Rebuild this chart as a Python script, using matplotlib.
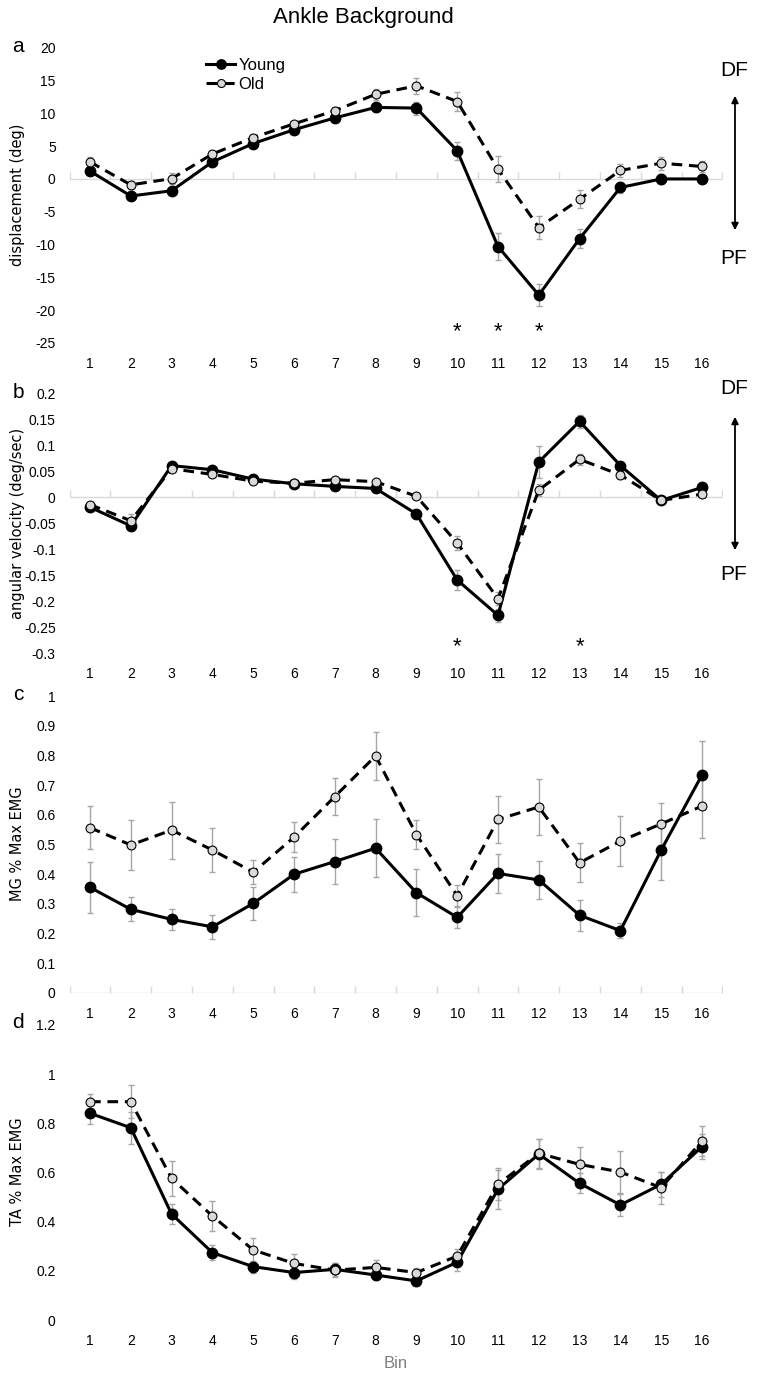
import matplotlib
matplotlib.use("Agg")
import matplotlib.pyplot as plt
from matplotlib.markers import TICKUP
from matplotlib.ticker import FuncFormatter

plt.rcParams['font.family'] = ['Liberation Sans', 'DejaVu Sans']

bins = list(range(1, 17))

# panel a - displacement (deg)
disp_young = [1.2, -2.6, -1.8, 2.6, 5.4, 7.5, 9.3, 10.9, 10.8, 4.3, -10.3, -17.7, -9.1, -1.3, 0.0, 0.0]
disp_young_err = [0.6, 0.6, 0.6, 0.6, 0.5, 0.5, 0.5, 0.7, 1.0, 1.4, 2.0, 1.7, 1.4, 0.8, 0.7, 0.6]
disp_old = [2.6, -0.9, 0.05, 3.8, 6.3, 8.4, 10.4, 12.9, 14.2, 11.8, 1.5, -7.4, -3.1, 1.3, 2.4, 1.9]
disp_old_err = [0.8, 0.6, 0.8, 0.5, 0.5, 0.5, 0.5, 0.8, 1.2, 1.5, 2.0, 1.7, 1.4, 1.0, 1.0, 0.8]
disp_star_bins = [10, 11, 12]
disp_star_y = -23.2

# panel b - angular velocity (deg/sec)
vel_young = [-0.019, -0.055, 0.061, 0.053, 0.035, 0.026, 0.021, 0.017, -0.032, -0.159, -0.227, 0.068, 0.146, 0.061, -0.006, 0.019]
vel_young_err = [0.004, 0.005, 0.004, 0.004, 0.003, 0.003, 0.003, 0.003, 0.005, 0.02, 0.012, 0.031, 0.012, 0.006, 0.004, 0.004]
vel_old = [-0.014, -0.045, 0.055, 0.044, 0.031, 0.027, 0.034, 0.03, 0.002, -0.088, -0.195, 0.014, 0.073, 0.043, -0.006, 0.006]
vel_old_err = [0.004, 0.012, 0.004, 0.004, 0.003, 0.003, 0.003, 0.003, 0.004, 0.014, 0.012, 0.012, 0.01, 0.008, 0.004, 0.004]
vel_star_bins = [10, 13]
vel_star_y = -0.287

# panel c - MG % max EMG
mg_young = [0.355, 0.281, 0.247, 0.222, 0.301, 0.399, 0.442, 0.487, 0.337, 0.254, 0.402, 0.38, 0.261, 0.209, 0.481, 0.734]
mg_young_err = [0.087, 0.04, 0.035, 0.04, 0.055, 0.06, 0.077, 0.098, 0.08, 0.035, 0.065, 0.065, 0.053, 0.025, 0.1, 0.115]
mg_old = [0.556, 0.498, 0.548, 0.481, 0.406, 0.524, 0.661, 0.798, 0.533, 0.327, 0.584, 0.626, 0.438, 0.511, 0.569, 0.629]
mg_old_err = [0.073, 0.083, 0.096, 0.075, 0.04, 0.05, 0.063, 0.08, 0.05, 0.035, 0.078, 0.095, 0.065, 0.085, 0.07, 0.108]

# panel d - TA % max EMG
ta_young = [0.841, 0.782, 0.431, 0.274, 0.217, 0.193, 0.206, 0.183, 0.159, 0.235, 0.532, 0.675, 0.556, 0.468, 0.552, 0.705]
ta_young_err = [0.045, 0.065, 0.04, 0.03, 0.025, 0.025, 0.025, 0.02, 0.02, 0.035, 0.08, 0.06, 0.04, 0.045, 0.05, 0.05]
ta_old = [0.888, 0.888, 0.576, 0.423, 0.285, 0.23, 0.203, 0.214, 0.193, 0.26, 0.552, 0.678, 0.633, 0.602, 0.538, 0.728]
ta_old_err = [0.03, 0.068, 0.07, 0.06, 0.05, 0.04, 0.03, 0.03, 0.02, 0.03, 0.065, 0.06, 0.07, 0.085, 0.065, 0.06]

W, H = 764, 1375
fig = plt.figure(figsize=(W / 100, H / 100), dpi=100)


def fx(px):
    return px / W


def fy(py):
    return 1 - py / H


def make_ax(top, bottom):
    left, right = 69.6, 722.4
    return fig.add_axes([fx(left), fy(bottom), (right - left) / W, (bottom - top) / H])


def fmt(v, pos):
    return '{:g}'.format(round(v, 3))


def draw(ax, young, young_err, old, old_err, ylim, ystep, zero_line=True):
    ax.errorbar(bins, young, yerr=young_err, fmt='none', ecolor='#a6a6a6', elinewidth=1, capsize=2, zorder=2)
    ax.errorbar(bins, old, yerr=old_err, fmt='none', ecolor='#a6a6a6', elinewidth=1, capsize=2, zorder=2)
    ly, = ax.plot(bins, young, '-', color='black', lw=2.2, marker='o', ms=7.5,
                  mfc='black', mec='black', label='Young', zorder=3)
    lo, = ax.plot(bins, old, '--', color='black', lw=2.2, dashes=(3.5, 2.2), marker='o', ms=6.4,
                  mfc='#d9d9d9', mec='black', mew=0.8, label='Old', zorder=4)
    if zero_line:
        ax.axhline(0, color='#d9d9d9', lw=1, zorder=1)
        bounds = [b - 0.5 for b in bins] + [16.5]
        ax.plot(bounds, [0] * len(bounds), ls='none', marker=TICKUP, ms=5, color='#d9d9d9', zorder=1)
    ax.set_xlim(0.5, 16.5)
    ax.set_ylim(*ylim)
    n = int(round((ylim[1] - ylim[0]) / ystep))
    ax.set_yticks([ylim[0] + i * ystep for i in range(n + 1)])
    ax.yaxis.set_major_formatter(FuncFormatter(fmt))
    ax.set_xticks(bins)
    ax.tick_params(axis='both', length=0, labelsize=10)
    ax.tick_params(axis='y', pad=10)
    ax.tick_params(axis='x', pad=10)
    for s in ax.spines.values():
        s.set_visible(False)
    ax.patch.set_alpha(0)
    return ly, lo


ax_a = make_ax(47.7, 343)
ly, lo = draw(ax_a, disp_young, disp_young_err, disp_old, disp_old_err, (-25, 20), 5)
for b in disp_star_bins:
    ax_a.text(b, disp_star_y, '*', ha='center', va='center', fontsize=16)
ax_a.legend(handles=[ly, lo], loc='upper left', bbox_to_anchor=(fx(206), fy(58)),
            bbox_transform=fig.transFigure, frameon=False, fontsize=12,
            handlelength=1.75, handletextpad=0.2, labelspacing=0.25,
            borderpad=0, borderaxespad=0, markerscale=0.9)

ax_b = make_ax(393.3, 653.3)
draw(ax_b, vel_young, vel_young_err, vel_old, vel_old_err, (-0.3, 0.2), 0.05)
for b in vel_star_bins:
    ax_b.text(b, vel_star_y, '*', ha='center', va='center', fontsize=16)

ax_c = make_ax(696, 992.7)
draw(ax_c, mg_young, mg_young_err, mg_old, mg_old_err, (0, 1), 0.1)

ax_d = make_ax(1025, 1320)
draw(ax_d, ta_young, ta_young_err, ta_old, ta_old_err, (0, 1.2), 0.2, zero_line=False)

# titles, panel letters, axis labels
fig.text(fx(363), fy(17), 'Ankle Background', ha='center', va='center', fontsize=16)
for letter, py in [('a', 46), ('b', 393), ('c', 694), ('d', 1022)]:
    fig.text(fx(18), fy(py), letter, ha='center', va='center', fontsize=15)

ylab = [('displacement (deg)', 195), ('angular velocity (deg/sec)', 523),
        ('MG % Max EMG', 844), ('TA % Max EMG', 1172)]
for txt, py in ylab:
    fig.text(fx(18), fy(py), txt, rotation=90, ha='center', va='center',
             fontsize=10.5, family='DejaVu Sans')

fig.text(fx(396), fy(1363), 'Bin', ha='center', va='center', fontsize=12, color='#808080')

# DF / PF arrows
for df_y, pf_y, a_top, a_bot in [(70, 258, 93, 233), (388, 575, 414, 553)]:
    fig.text(fx(734), fy(df_y), 'DF', ha='center', va='center', fontsize=15)
    fig.text(fx(734), fy(pf_y), 'PF', ha='center', va='center', fontsize=15)
    fig.add_artist(matplotlib.patches.FancyArrowPatch(
        (fx(735), fy(a_top)), (fx(735), fy(a_bot)), transform=fig.transFigure,
        arrowstyle='<|-|>', mutation_scale=10, lw=1.3, color='black'))

fig.savefig('out.png', dpi=100)
